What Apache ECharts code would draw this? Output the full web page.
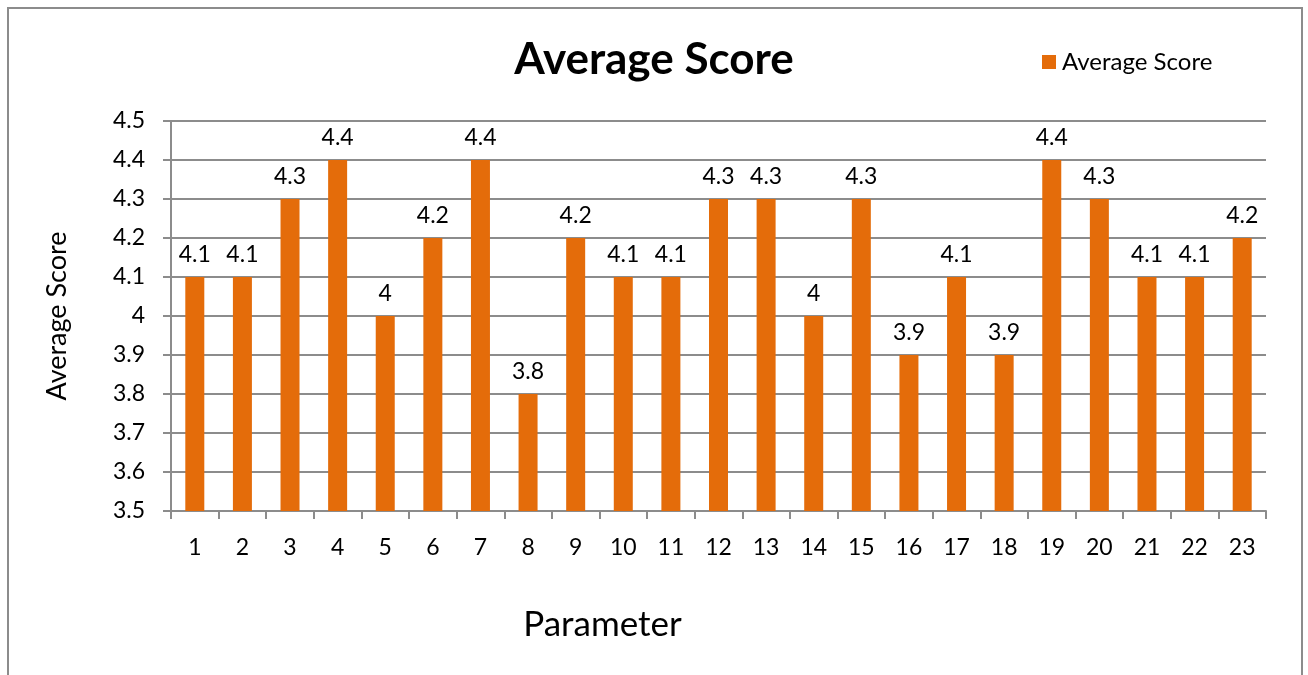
<!DOCTYPE html>
<html>
<head>
<meta charset="utf-8">
<script src="https://cdn.jsdelivr.net/npm/echarts@6/dist/echarts.min.js"></script>
<style>
  html, body { margin: 0; padding: 0; background: #fff; }
  #chart { width: 1308px; height: 675px; }
</style>
</head>
<body>
<div id="chart"></div>
<script>
var parameters = ['1','2','3','4','5','6','7','8','9','10','11','12','13','14','15','16','17','18','19','20','21','22','23'];
var avgScore = [4.1, 4.1, 4.3, 4.4, 4.0, 4.2, 4.4, 3.8, 4.2, 4.1, 4.1, 4.3, 4.3, 4.0, 4.3, 3.9, 4.1, 3.9, 4.4, 4.3, 4.1, 4.1, 4.2];

var font = 'Lato, "Open Sans", sans-serif';
var myChart = echarts.init(document.getElementById('chart'));
var option = {
    animation: false,
    textStyle: { fontFamily: font },
    title: {
        text: 'Average Score',
        left: 'center',
        top: 33,
        textStyle: { fontSize: 44, fontWeight: 'bold', color: '#000', fontFamily: font }
    },
    legend: {
        left: 1037,
        top: 45,
        itemWidth: 14,
        itemHeight: 14,
        itemGap: 6,
        icon: 'rect',
        textStyle: { fontSize: 24, color: '#000', fontFamily: font, padding: [0, 0, 0, 1] },
        data: ['Average Score']
    },
    graphic: [{
        type: 'rect',
        shape: { x: 8, y: 8, width: 1294, height: 700 },
        style: { fill: 'none', stroke: '#8c8c8c', lineWidth: 2 },
        silent: true
    }],
    grid: { left: 171, top: 121, width: 1095, height: 390 },
    xAxis: {
        type: 'category',
        data: parameters,
        name: 'Parameter',
        nameLocation: 'middle',
        nameGap: 96,
        nameTextStyle: { fontSize: 35, color: '#000', fontFamily: font, verticalAlign: 'top', padding: [0, 232, 0, 0] },
        axisLine: { lineStyle: { color: '#8c8c8c', width: 2 } },
        axisTick: { show: true, length: 8, alignWithLabel: false, lineStyle: { color: '#8c8c8c', width: 2 } },
        axisLabel: { fontSize: 23, color: '#000', margin: 25, fontFamily: font, interval: 0 }
    },
    yAxis: {
        type: 'value',
        min: 3.5,
        max: 4.5,
        interval: 0.1,
        name: 'Average Score',
        nameLocation: 'middle',
        nameGap: 100,
        nameTextStyle: { fontSize: 27, color: '#000', fontFamily: font },
        axisLine: { show: true, lineStyle: { color: '#8c8c8c', width: 2 } },
        axisTick: { show: true, length: 8, lineStyle: { color: '#8c8c8c', width: 2 } },
        splitLine: { lineStyle: { color: '#8c8c8c', width: 2 } },
        axisLabel: {
            fontSize: 23, color: '#000', margin: 26, fontFamily: font,
            formatter: function (v) { return String(Math.round(v * 10) / 10); }
        }
    },
    series: [{
        name: 'Average Score',
        type: 'bar',
        data: avgScore,
        barWidth: 19,
        itemStyle: { color: '#E46C0A' },
        label: {
            show: true,
            position: 'top',
            distance: 11,
            fontSize: 23,
            color: '#000',
            fontFamily: font
        }
    }]
};
myChart.setOption(option);
</script>
</body>
</html>
